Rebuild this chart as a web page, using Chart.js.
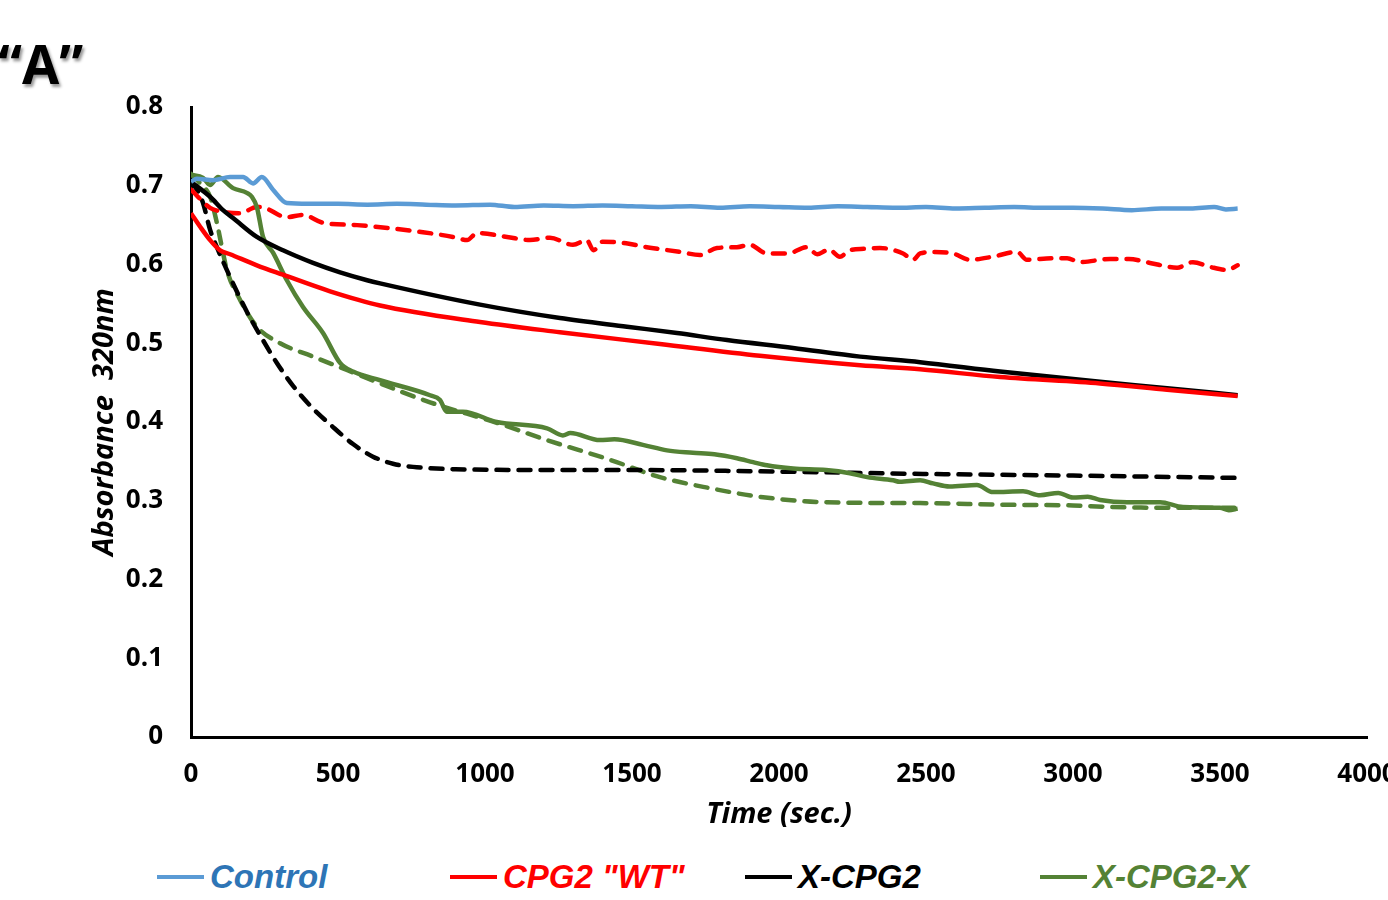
<!DOCTYPE html>
<html>
<head>
<meta charset="utf-8">
<script src="https://cdn.jsdelivr.net/npm/chart.js@4"></script>
<style>
  body { margin: 0; width: 1388px; height: 900px; overflow: hidden; background: #fff; position: relative; }
  #wrap { position: absolute; left: 0; top: 0; width: 1420px; height: 850px; }
  #tag { position: absolute; left: -2px; top: 26px; font: bold 54px "Open Sans", sans-serif; color: #000; text-shadow: 2px 3px 3px #999; }
  #legend { position: absolute; left: 0; top: 857px; width: 1388px; height: 40px; }
  .item { position: absolute; top: 0; height: 40px; display: flex; align-items: center; font: italic bold 33px "Liberation Sans", Arial, sans-serif; white-space: nowrap; }
  .item .ln { display: inline-block; width: 47px; height: 4px; margin-right: 6px; }
</style>
</head>
<body>
<div id="tag">&ldquo;A&rdquo;</div>
<div id="wrap"><canvas id="myChart" width="1420" height="850"></canvas></div>
<div id="legend"></div>
<script>
// time (sec.) and absorbance at 320nm
var ctrlT = [0, 20, 75, 133, 177, 211, 241, 279, 326, 400, 500, 600, 700, 800, 900, 1017, 1100, 1200, 1300, 1400, 1500, 1600, 1700, 1800, 1900, 2000, 2100, 2200, 2300, 2400, 2500, 2600, 2700, 2800, 2900, 3000, 3100, 3200, 3300, 3400, 3480, 3520, 3560];
var ctrlY = [0.705, 0.709, 0.707, 0.711, 0.711, 0.703, 0.711, 0.695, 0.678, 0.677, 0.677, 0.676, 0.677, 0.676, 0.675, 0.676, 0.673, 0.675, 0.674, 0.675, 0.674, 0.673, 0.674, 0.672, 0.674, 0.673, 0.672, 0.674, 0.673, 0.672, 0.673, 0.671, 0.672, 0.673, 0.672, 0.672, 0.671, 0.669, 0.671, 0.671, 0.673, 0.670, 0.671];

var wtT = [0, 31, 65, 99, 133, 224, 313, 473, 643, 983, 1255, 1595, 1935, 2276, 2480, 2752, 3092, 3320, 3560];
var wtY = [0.665, 0.648, 0.631, 0.618, 0.613, 0.599, 0.587, 0.566, 0.548, 0.527, 0.514, 0.499, 0.484, 0.472, 0.467, 0.457, 0.449, 0.441, 0.433];

var xcT = [0, 65, 109, 143, 224, 313, 415, 507, 599, 643, 983, 1255, 1483, 1653, 1823, 2048, 2276, 2480, 2752, 3092, 3320, 3560];
var xcY = [0.705, 0.686, 0.669, 0.659, 0.635, 0.618, 0.602, 0.590, 0.580, 0.576, 0.549, 0.532, 0.521, 0.513, 0.504, 0.494, 0.483, 0.476, 0.464, 0.451, 0.443, 0.434];

var xcxT = [0, 41, 65, 92, 143, 190, 207, 224, 245, 279, 326, 381, 449, 507, 551, 643, 813, 847, 870, 925, 1040, 1211, 1265, 1290, 1391, 1440, 1537, 1619, 1707, 1780, 1857, 1912, 1959, 2048, 2160, 2241, 2300, 2388, 2411, 2480, 2524, 2580, 2673, 2728, 2830, 2888, 2950, 3000, 3050, 3092, 3184, 3296, 3374, 3500, 3530, 3560];
var xcxY = [0.714, 0.710, 0.701, 0.711, 0.697, 0.691, 0.686, 0.673, 0.635, 0.615, 0.580, 0.546, 0.513, 0.475, 0.464, 0.453, 0.434, 0.428, 0.413, 0.413, 0.400, 0.392, 0.383, 0.386, 0.377, 0.378, 0.371, 0.364, 0.361, 0.359, 0.354, 0.349, 0.345, 0.341, 0.339, 0.335, 0.330, 0.326, 0.324, 0.326, 0.322, 0.318, 0.320, 0.311, 0.312, 0.307, 0.310, 0.304, 0.305, 0.301, 0.298, 0.298, 0.292, 0.291, 0.288, 0.290];

// dashed runs (not in legend)
var wtDT = [0, 65, 109, 167, 224, 250, 326, 381, 449, 565, 677, 789, 891, 939, 973, 1075, 1153, 1221, 1299, 1346, 1369, 1400, 1480, 1550, 1663, 1731, 1789, 1857, 1900, 1959, 2030, 2095, 2130, 2170, 2207, 2240, 2290, 2343, 2422, 2456, 2480, 2530, 2592, 2650, 2728, 2810, 2843, 2932, 2980, 3024, 3126, 3190, 3262, 3354, 3408, 3466, 3524, 3560];
var wtDY = [0.695, 0.672, 0.667, 0.665, 0.673, 0.672, 0.660, 0.663, 0.653, 0.650, 0.646, 0.641, 0.635, 0.631, 0.640, 0.635, 0.631, 0.634, 0.625, 0.631, 0.618, 0.629, 0.627, 0.622, 0.616, 0.612, 0.621, 0.622, 0.625, 0.614, 0.614, 0.622, 0.613, 0.619, 0.610, 0.618, 0.620, 0.621, 0.614, 0.606, 0.614, 0.616, 0.614, 0.606, 0.610, 0.616, 0.606, 0.608, 0.608, 0.603, 0.607, 0.607, 0.602, 0.596, 0.603, 0.597, 0.593, 0.599];

var xcDT = [0, 20, 41, 65, 88, 133, 190, 240, 292, 347, 415, 473, 551, 619, 687, 755, 900, 1255, 1500, 2000, 2500, 3000, 3560];
var xcDY = [0.705, 0.695, 0.678, 0.644, 0.622, 0.584, 0.540, 0.507, 0.475, 0.446, 0.417, 0.397, 0.372, 0.356, 0.347, 0.343, 0.340, 0.339, 0.339, 0.337, 0.334, 0.332, 0.329];

var xcxDT = [0, 31, 65, 88, 105, 122, 167, 224, 303, 415, 530, 643, 813, 1040, 1211, 1425, 1595, 1765, 1935, 2163, 2480, 2750, 3000, 3133, 3400, 3560];
var xcxDY = [0.715, 0.703, 0.686, 0.653, 0.622, 0.593, 0.555, 0.521, 0.500, 0.483, 0.466, 0.449, 0.425, 0.399, 0.377, 0.352, 0.330, 0.316, 0.305, 0.298, 0.297, 0.295, 0.294, 0.292, 0.291, 0.291];

var names = ['Control', 'CPG2 "WT"', 'X-CPG2', 'X-CPG2-X'];
var lineColors = ['#5B9BD5', '#FF0000', '#000000', '#548235'];
var textColors = ['#2E75B6', '#FF0000', '#000000', '#548235'];
var xTicks = [0, 500, 1000, 1500, 2000, 2500, 3000, 3500, 4000];

function pts(t, y) {
    var out = [];
    for (var i = 0; i < t.length; i++) out.push({x: t[i], y: y[i]});
    return out;
}

function series(label, t, y, color, dashed) {
    return {
        label: label,
        data: pts(t, y),
        borderColor: color,
        backgroundColor: color,
        borderWidth: 4.5,
        borderDash: dashed ? [12, 10] : [],
        borderCapStyle: dashed ? 'round' : 'butt',
        pointRadius: 0,
        fill: false,
        cubicInterpolationMode: 'monotone'
    };
}

var tickFont = {family: '"Open Sans", sans-serif', weight: 'bold', size: 26};
var titleFont = {family: '"Open Sans", sans-serif', weight: 'bold', style: 'italic', size: 29};

new Chart(document.getElementById('myChart'), {
    type: 'line',
    data: {
        datasets: [
            series(names[0], ctrlT, ctrlY, lineColors[0], false),
            series(names[1], wtT, wtY, lineColors[1], false),
            series(names[2], xcT, xcY, lineColors[2], false),
            series(names[3], xcxT, xcxY, lineColors[3], false),
            series(names[1] + ' dashed', wtDT, wtDY, lineColors[1], true),
            series(names[2] + ' dashed', xcDT, xcDY, lineColors[2], true),
            series(names[3] + ' dashed', xcxDT, xcxDY, lineColors[3], true)
        ]
    },
    options: {
        responsive: false,
        animation: false,
        layout: {padding: {left: 0, top: 107, right: 53, bottom: 0}},
        plugins: {legend: {display: false}, tooltip: {enabled: false}},
        scales: {
            x: {
                type: 'linear',
                min: 0, max: 4000,
                afterBuildTicks: function(s) { s.ticks = xTicks.map(function(v) { return {value: v}; }); },
                afterFit: function(s) { s.height = 113; },
                grid: {display: false, drawTicks: false},
                border: {display: true, color: '#000', width: 3},
                ticks: {color: '#000', font: tickFont, padding: 22, maxRotation: 0,
                        callback: function(v) { return String(v); }},
                title: {display: true, text: 'Time (sec.)', color: '#000', font: titleFont,
                        padding: {top: 0, bottom: 18}}
            },
            y: {
                min: 0, max: 0.8,
                afterFit: function(s) { s.width = 191; },
                grid: {display: false, drawTicks: false},
                border: {display: true, color: '#000', width: 3},
                ticks: {color: '#000', font: tickFont, padding: 28, stepSize: 0.1,
                        callback: function(v) { return v === 0 ? '0' : v.toFixed(1); }},
                title: {display: true, text: 'Absorbance  320nm', color: '#000', font: titleFont,
                        padding: {top: 87, bottom: 0}}
            }
        }
    }
});

// legend drawn as html, slots spaced like the original
var lefts = [157, 450, 745, 1040];
var lg = document.getElementById('legend');
for (var i = 0; i < names.length; i++) {
    var d = document.createElement('div');
    d.className = 'item';
    d.style.left = lefts[i] + 'px';
    d.style.color = textColors[i];
    var l = document.createElement('span');
    l.className = 'ln';
    l.style.background = lineColors[i];
    d.appendChild(l);
    d.appendChild(document.createTextNode(names[i]));
    lg.appendChild(d);
}
</script>
</body>
</html>
